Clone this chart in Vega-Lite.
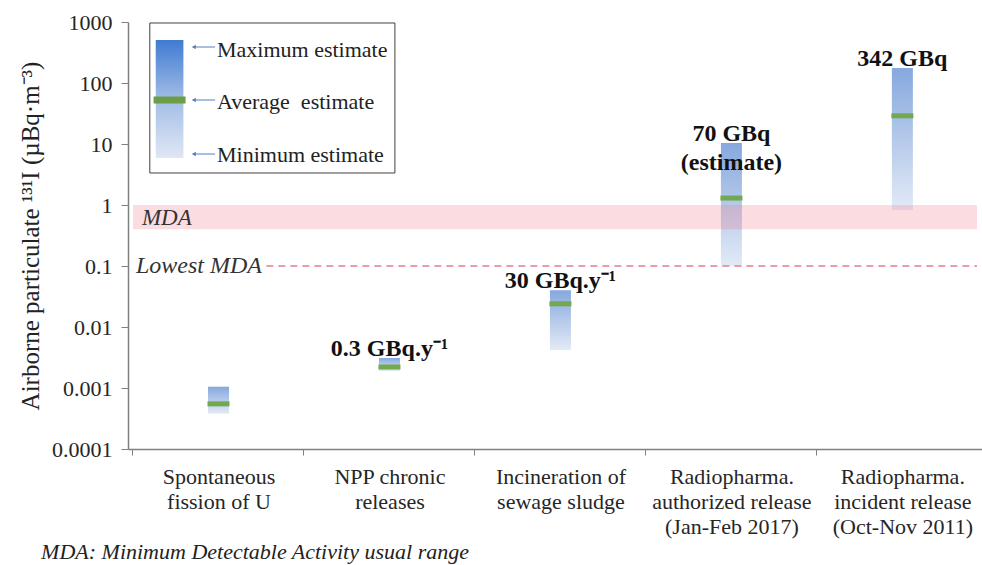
{
  "$schema": "https://vega.github.io/schema/vega-lite/v6.json",
  "width": 854,
  "height": 427,
  "autosize": {"type": "none"},
  "padding": {"left": 128, "top": 22, "right": 0, "bottom": 116},
  "background": "white",
  "config": {"view": {"stroke": null}, "font": "Liberation Serif"},
  "resolve": {"axis": {"x": "independent", "y": "independent"}},
  "data": {
    "values": [
      {"i": 0, "source": "Spontaneous fission of U", "min": 0.00038, "avg": 0.00055, "max": 0.00105, "label": ""},
      {"i": 1, "source": "NPP chronic releases", "min": 0.0019, "avg": 0.0022, "max": 0.0031, "label": "0.3 GBq.y⁻¹"},
      {"i": 2, "source": "Incineration of sewage sludge", "min": 0.0042, "avg": 0.024, "max": 0.04, "label": "30 GBq.y⁻¹"},
      {"i": 3, "source": "Radiopharma. authorized release (Jan-Feb 2017)", "min": 0.1, "avg": 1.3, "max": 10.4, "label": ["70 GBq", "(estimate)"]},
      {"i": 4, "source": "Radiopharma. incident release (Oct-Nov 2011)", "min": 0.83, "avg": 29, "max": 176, "label": "342 GBq"}
    ]
  },
  "layer": [
    {
      "mark": {
        "type": "bar",
        "width": 21,
        "color": {
          "gradient": "linear", "x1": 0, "y1": 0, "x2": 0, "y2": 1,
          "stops": [
            {"offset": 0, "color": "#86a8de"},
            {"offset": 1, "color": "#e3eaf6"}
          ]
        }
      },
      "encoding": {
        "x": {
          "field": "i", "type": "quantitative",
          "scale": {"domain": [-0.5, 4.4364], "nice": false, "zero": false},
          "axis": {
            "values": [0, 1, 2, 3, 4],
            "title": null,
            "grid": false,
            "tickOffset": -86.5,
            "labelOffset": 86.5,
            "labelExpr": "datum.value == 0 ? ['Spontaneous', 'fission of U'] : datum.value == 1 ? ['NPP chronic', 'releases'] : datum.value == 2 ? ['Incineration of', 'sewage sludge'] : datum.value == 3 ? ['Radiopharma.', 'authorized release', '(Jan-Feb 2017)'] : ['Radiopharma.', 'incident release', '(Oct-Nov 2011)']",
            "labelFont": "Liberation Serif",
            "labelFontSize": 22,
            "labelColor": "#262626",
            "labelLineHeight": 25,
            "labelPadding": 11,
            "labelAngle": 0,
            "labelBaseline": "top",
            "labelFlush": false,
            "labelOverlap": false,
            "labelBound": false,
            "tickSize": 6,
            "tickColor": "#808080",
            "domainColor": "#808080",
            "domainWidth": 1.5
          }
        },
        "y": {
          "field": "min", "type": "quantitative",
          "scale": {"type": "log", "domain": [0.0001, 1000], "nice": false},
          "axis": {
            "values": [0.0001, 0.001, 0.01, 0.1, 1, 10, 100, 1000],
            "format": "~g",
            "grid": false,
            "title": "Airborne particulate ¹³¹I (µBq·m⁻³)",
            "titleFont": "Liberation Serif",
            "titleFontSize": 25,
            "titleFontWeight": "normal",
            "titleColor": "#222222",
            "titlePadding": 8,
            "labelFont": "Liberation Serif",
            "labelFontSize": 22,
            "labelColor": "#262626",
            "labelPadding": 9,
            "tickSize": 7,
            "tickColor": "#808080",
            "domainColor": "#808080",
            "domainWidth": 1.5
          }
        },
        "y2": {"field": "max"}
      }
    },
    {
      "mark": {"type": "tick", "orient": "horizontal", "size": 22, "thickness": 5, "color": "#72a84e", "opacity": 1},
      "encoding": {
        "x": {"field": "i", "type": "quantitative", "axis": null},
        "y": {"field": "avg", "type": "quantitative", "axis": null}
      }
    },
    {
      "data": {"values": [{}]},
      "mark": {"type": "rect", "color": "#f08090", "opacity": 0.28},
      "encoding": {
        "x": {"datum": -0.5, "axis": null}, "x2": {"datum": 4.4364},
        "y": {"datum": 0.4, "axis": null}, "y2": {"datum": 1}
      }
    },
    {
      "data": {"values": [{}]},
      "mark": {"type": "rule", "color": "#e57f8d", "strokeDash": [7, 5], "strokeWidth": 1.5},
      "encoding": {
        "x": {"datum": 0.28, "axis": null}, "x2": {"datum": 4.4364},
        "y": {"datum": 0.1, "axis": null}
      }
    },
    {
      "data": {"values": [{}]},
      "mark": {"type": "text", "text": "MDA", "font": "Liberation Serif", "fontStyle": "italic", "fontSize": 23, "align": "left", "baseline": "middle", "color": "#333333"},
      "encoding": {"x": {"datum": -0.448, "axis": null}, "y": {"datum": 0.612, "axis": null}}
    },
    {
      "data": {"values": [{}]},
      "mark": {"type": "text", "text": "Lowest MDA", "font": "Liberation Serif", "fontStyle": "italic", "fontSize": 24, "align": "left", "baseline": "middle", "color": "#333333"},
      "encoding": {"x": {"datum": -0.483, "axis": null}, "y": {"datum": 0.1, "axis": null}}
    },
    {
      "mark": {"type": "text", "font": "Liberation Serif", "fontWeight": "bold", "fontSize": 24, "baseline": "bottom", "dy": 3, "lineHeight": 29, "color": "#111111"},
      "encoding": {
        "x": {"field": "i", "type": "quantitative", "axis": null},
        "y": {"field": "max", "type": "quantitative", "axis": null},
        "text": {"field": "label"}
      }
    },
    {
      "data": {"values": [{}]},
      "mark": {"type": "rect", "fill": "white", "stroke": "#404040", "strokeWidth": 1},
      "encoding": {
        "x": {"datum": -0.4017, "axis": null}, "x2": {"datum": 1.0318},
        "y": {"datum": 963, "axis": null}, "y2": {"datum": 3.35}
      }
    },
    {
      "data": {"values": [{}]},
      "mark": {
        "type": "rect",
        "color": {
          "gradient": "linear", "x1": 0, "y1": 0, "x2": 0, "y2": 1,
          "stops": [
            {"offset": 0, "color": "#3f7bd2"},
            {"offset": 0.5, "color": "#a2bde6"},
            {"offset": 1, "color": "#e0e7f5"}
          ]
        }
      },
      "encoding": {
        "x": {"datum": -0.367, "axis": null}, "x2": {"datum": -0.2052},
        "y": {"datum": 507, "axis": null}, "y2": {"datum": 5.9}
      }
    },
    {
      "data": {"values": [{}]},
      "mark": {"type": "tick", "orient": "horizontal", "size": 32, "thickness": 7, "color": "#6b9e47", "opacity": 1},
      "encoding": {"x": {"datum": -0.2861, "axis": null}, "y": {"datum": 52.6, "axis": null}}
    },
    {
      "data": {"values": [{}]},
      "mark": {"type": "rule", "color": "#5a7dbd", "strokeWidth": 1},
      "encoding": {"x": {"datum": -0.147, "axis": null}, "x2": {"datum": -0.0202}, "y": {"datum": 389, "axis": null}}
    },
    {
      "data": {"values": [{}]},
      "mark": {"type": "rule", "color": "#5a7dbd", "strokeWidth": 1},
      "encoding": {"x": {"datum": -0.147, "axis": null}, "x2": {"datum": -0.0202}, "y": {"datum": 52.6, "axis": null}}
    },
    {
      "data": {"values": [{}]},
      "mark": {"type": "rule", "color": "#5a7dbd", "strokeWidth": 1},
      "encoding": {"x": {"datum": -0.147, "axis": null}, "x2": {"datum": -0.0202}, "y": {"datum": 6.85, "axis": null}}
    },
    {
      "data": {"values": [{}]},
      "mark": {"type": "point", "shape": "triangle-left", "size": 22, "filled": true, "color": "#5a7dbd", "opacity": 1},
      "encoding": {"x": {"datum": -0.1445, "axis": null}, "y": {"datum": 389, "axis": null}}
    },
    {
      "data": {"values": [{}]},
      "mark": {"type": "point", "shape": "triangle-left", "size": 22, "filled": true, "color": "#5a7dbd", "opacity": 1},
      "encoding": {"x": {"datum": -0.1445, "axis": null}, "y": {"datum": 52.6, "axis": null}}
    },
    {
      "data": {"values": [{}]},
      "mark": {"type": "point", "shape": "triangle-left", "size": 22, "filled": true, "color": "#5a7dbd", "opacity": 1},
      "encoding": {"x": {"datum": -0.1445, "axis": null}, "y": {"datum": 6.85, "axis": null}}
    },
    {
      "data": {"values": [{}]},
      "mark": {"type": "text", "text": "Maximum estimate", "font": "Liberation Serif", "fontSize": 22, "align": "left", "baseline": "middle", "color": "#222222"},
      "encoding": {"x": {"datum": -0.0087, "axis": null}, "y": {"datum": 347, "axis": null}}
    },
    {
      "data": {"values": [{}]},
      "mark": {"type": "text", "text": "Average\u00a0 estimate", "font": "Liberation Serif", "fontSize": 22, "align": "left", "baseline": "middle", "color": "#222222"},
      "encoding": {"x": {"datum": -0.0087, "axis": null}, "y": {"datum": 48.9, "axis": null}}
    },
    {
      "data": {"values": [{}]},
      "mark": {"type": "text", "text": "Minimum estimate", "font": "Liberation Serif", "fontSize": 22, "align": "left", "baseline": "middle", "color": "#222222"},
      "encoding": {"x": {"datum": -0.0087, "axis": null}, "y": {"datum": 6.6, "axis": null}}
    },
    {
      "data": {"values": [{}]},
      "mark": {"type": "text", "text": "MDA: Minimum Detectable Activity usual range", "font": "Liberation Serif", "fontStyle": "italic", "fontSize": 22, "align": "left", "baseline": "middle", "color": "#222222"},
      "encoding": {"x": {"datum": -1.0376, "axis": null}, "y": {"datum": 0.00000205, "axis": null}}
    }
  ]
}
